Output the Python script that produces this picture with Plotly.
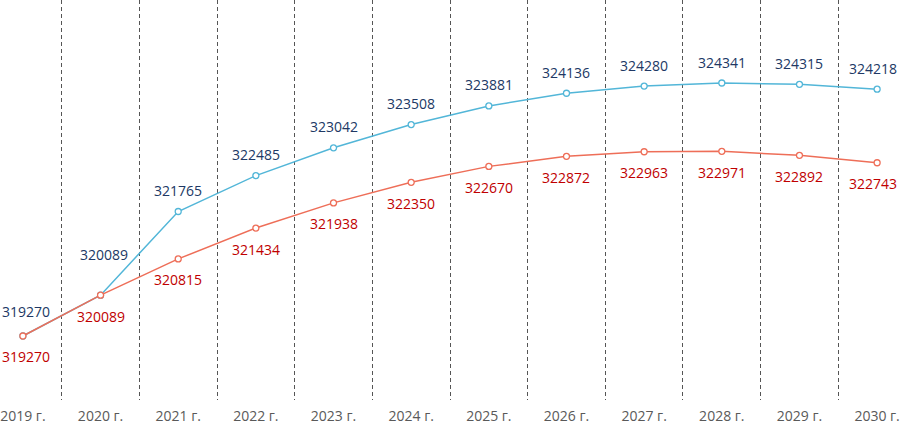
import plotly.graph_objects as go

years = ['2019 г.', '2020 г.', '2021 г.', '2022 г.', '2023 г.', '2024 г.',
         '2025 г.', '2026 г.', '2027 г.', '2028 г.', '2029 г.', '2030 г.']
upper = [319270, 320089, 321765, 322485, 323042, 323508,
         323881, 324136, 324280, 324341, 324315, 324218]
lower = [319270, 320089, 320815, 321434, 321938, 322350,
         322670, 322872, 322963, 322971, 322892, 322743]

BLUE = '#52B6D8'
RED = '#EE6E58'
BLUE_TXT = '#203864'
RED_TXT = '#C00000'
FONT = 'Open Sans'

fig = go.Figure()

fig.add_trace(go.Scatter(x=years, y=upper, mode='lines+markers',
                         line=dict(color=BLUE, width=1.5),
                         marker=dict(symbol='circle', size=6, color='white',
                                     line=dict(color=BLUE, width=1.3)),
                         hoverinfo='skip'))
fig.add_trace(go.Scatter(x=years, y=lower, mode='lines+markers',
                         line=dict(color=RED, width=1.5),
                         marker=dict(symbol='circle', size=6, color='white',
                                     line=dict(color=RED, width=1.3)),
                         hoverinfo='skip'))

## data labels (edge labels nudged inside the picture)
last = len(years) - 1
def xnudge(i):
    return 3 if i == 0 else (-4 if i == last else 0)

for i, (yr, v) in enumerate(zip(years, upper)):
    shift = 41 if i == 1 else (24 if i == 0 else 21)
    fig.add_annotation(x=yr, y=v, text=str(v), showarrow=False,
                       xshift=3 if i == 1 else xnudge(i), yshift=shift,
                       font=dict(family=FONT, size=14, color=BLUE_TXT))
for i, (yr, v) in enumerate(zip(years, lower)):
    fig.add_annotation(x=yr, y=v, text=str(v), showarrow=False,
                       xshift=xnudge(i), yshift=-21,
                       font=dict(family=FONT, size=14, color=RED_TXT))

fig.update_xaxes(type='category', range=[-0.282, 11.256],
                 tickson='boundaries', showgrid=True,
                 gridcolor='#555555', gridwidth=1, griddash='4px,3px',
                 showline=False, ticks='', zeroline=False,
                 ticklabelstandoff=6,
                 tickfont=dict(family=FONT, size=14, color='#595959'))
fig.update_yaxes(range=[317987, 326005], visible=False, showgrid=False)

fig.update_layout(width=900, height=426,
                  margin=dict(l=0, r=0, t=0, b=26),
                  plot_bgcolor='white', paper_bgcolor='white',
                  showlegend=False)

fig.write_html('out.html', config={'displayModeBar': False},
               post_script="document.body.style.margin='0';document.body.style.overflow='hidden';")
